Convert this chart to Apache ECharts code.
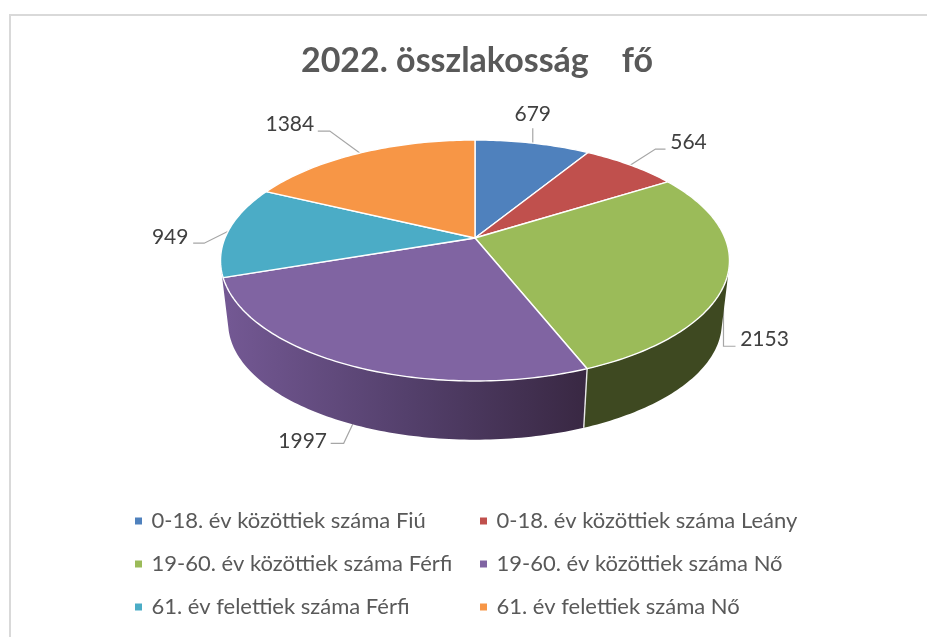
<!DOCTYPE html>
<html><head><meta charset="utf-8">
<style>html,body{margin:0;padding:0;background:#fff}#c{width:927px;height:637px}</style>
<script src="https://cdn.jsdelivr.net/npm/echarts@6/dist/echarts.min.js"></script></head>
<body><div id="c"></div>
<script>
const categories = ['0-18. év közöttiek száma Fiú','0-18. év közöttiek száma Leány','19-60. év közöttiek száma Férfi','19-60. év közöttiek száma Nő','61. év felettiek száma Férfi','61. év felettiek száma Nő'];
const values = [679,564,2153,1997,949,1384];
const titleText = '2022. összlakosság    fő';
const colors = ['#4f81bd','#c0504d','#9bbb59','#8064a2','#4bacc6','#f79646'];
// leader lines: elbow and end offsets from the rim anchor, label centre offset from the end
const leaders = [
  {depth:0, pts:[[0,-15]], lab:[0,-14]},
  {depth:0, pts:[[25,-16],[35,-16]], lab:[23,-7]},
  {depth:.5, pts:[[0,39],[12,39]], lab:[29,-7]},
  {depth:1, pts:[[-9,19],[-22,19]], lab:[-28,-2]},
  {depth:0, pts:[[-24,12],[-35,12]], lab:[-23,-6]},
  {depth:0, pts:[[-30,-22],[-42,-22]], lab:[-28,-7]}
];
const APEX = {x:475,y:238}, K = 0.1867, AY = 116.3, BX = 250, WALL_S = 0.97, WALL_DY = 63;
const total = values.reduce((a,b)=>a+b,0);
const starts = values.map((_,i)=>values.slice(0,i).reduce((a,b)=>a+b,0));
function rim(deg, depth){
  const t = deg*Math.PI/180, u = Math.sin(t), v = Math.cos(t), w = 1+K*v;
  const s = 1-(1-WALL_S)*depth;
  return [APEX.x + s*BX*u/w, APEX.y - s*AY*v/w + WALL_DY*depth];
}
function arc(a0,a1,depth){
  const out=[]; const n=Math.max(2,Math.ceil(Math.abs(a1-a0)));
  for(let i=0;i<=n;i++) out.push(rim(a0+(a1-a0)*i/n,depth));
  return out;
}
function angles(api){
  const a0 = api.value(0)/total*360, a1 = (api.value(0)+api.value(1))/total*360;
  return [a0,a1];
}
// one path made of many quads with the same winding, so that the fill has no seams
echarts.graphic.registerShape('wallBand', echarts.graphic.extendShape({
  type:'wallBand',
  shape:{top:[],bot:[]},
  buildPath(ctx,shape){
    const t=shape.top,b=shape.bot;
    for(let k=0;k<t.length-1;k++){
      let q=[t[k],t[k+1],b[k+1],b[k]], area=0;
      for(let j=0;j<4;j++){const p=q[j],r=q[(j+1)%4];area+=p[0]*r[1]-r[0]*p[1];}
      if(area<0) q=q.reverse();
      ctx.moveTo(q[0][0],q[0][1]);
      for(let j=1;j<4;j++) ctx.lineTo(q[j][0],q[j][1]);
      ctx.closePath();
    }
  }
}));
const wallFills = [null,null,
  '#3e4921',
  new echarts.graphic.LinearGradient(228,0,585,0,[{offset:0,color:'#735893'},{offset:.5,color:'#54406c'},{offset:1,color:'#392843'}],true),
  null,null];
const wallSeries = {
  type:'custom', name:'walls', coordinateSystem:'none', z:2, silent:true, animation:false,
  data: values.map((v,i)=>[starts[i],v,i]),
  renderItem(params,api){
    const [a0,a1]=angles(api), i=api.value(2), mid=(a0+a1)/2, L=leaders[i];
    const a=rim(mid,L.depth); let p=[a[0],a[1]]; const pts=[p];
    L.pts.forEach(o=>pts.push([a[0]+o[0],a[1]+o[1]]));
    const end=pts[pts.length-1];
    const kids=[
      {type:'polyline',shape:{points:pts},style:{stroke:'#a6a6a6',lineWidth:1.2,fill:null},z2:1},
      {type:'text',style:{text:String(api.value(1)),x:end[0]+L.lab[0],y:end[1]+L.lab[1],align:'center',verticalAlign:'middle',font:'21px Lato',fill:'#404040'},z2:1}
    ];
    if(wallFills[i]){
      // the side wall reaches a little past its slice so that the silhouette stays closed at the rim
      const far = a1 + (i===3 ? 12 : 0), top=arc(a0,far,0), bot=arc(a0,far,1);
      kids.push({type:'wallBand',shape:{top,bot},style:{fill:wallFills[i],stroke:null},z2:5});
      kids.push({type:'line',shape:{x1:top[0][0],y1:top[0][1],x2:bot[0][0],y2:bot[0][1]},
        style:{stroke:'#e8e8e8',lineWidth:1.4},z2:6});
    }
    return {type:'group',children:kids};
  }
};
const topSeries = categories.map((name,i)=>({
  type:'custom', name, coordinateSystem:'none', z:3, silent:true, animation:false,
  itemStyle:{color:colors[i]},
  data:[[starts[i],values[i]]],
  renderItem(params,api){
    const [a0,a1]=angles(api);
    return {type:'polygon',shape:{points:[[APEX.x,APEX.y]].concat(arc(a0,a1,0))},
      style:{fill:colors[i],stroke:'#fff',lineWidth:1.4,lineJoin:'round'}};
  }
}));
const legendBase = {orient:'vertical',padding:0,itemWidth:7,itemHeight:7,itemGap:21,icon:'rect',selectedMode:false,
  textStyle:{fontFamily:'Lato',fontSize:22,color:'#595959',padding:[0,0,0,4.5]}};
const chart = echarts.init(document.getElementById('c'),null,{renderer:'canvas'});
chart.setOption({
  backgroundColor:'#fff', animation:false,
  title:{text:titleText,left:472,top:39,textAlign:'center',textStyle:{fontFamily:'Lato',fontWeight:'bold',fontSize:34,color:'#595959'}},
  legend:[
    Object.assign({},legendBase,{left:135,top:510,data:[categories[0],categories[2],categories[4]]}),
    Object.assign({},legendBase,{left:480,top:510,data:[categories[1],categories[3],categories[5]]})
  ],
  graphic:[
    {type:'rect',shape:{x:9,y:14,width:918,height:2},style:{fill:'#d9d9d9'},silent:true},
    {type:'rect',shape:{x:9,y:14,width:2,height:623},style:{fill:'#d9d9d9'},silent:true}
  ],
  series:[wallSeries].concat(topSeries)
});
</script></body></html>
